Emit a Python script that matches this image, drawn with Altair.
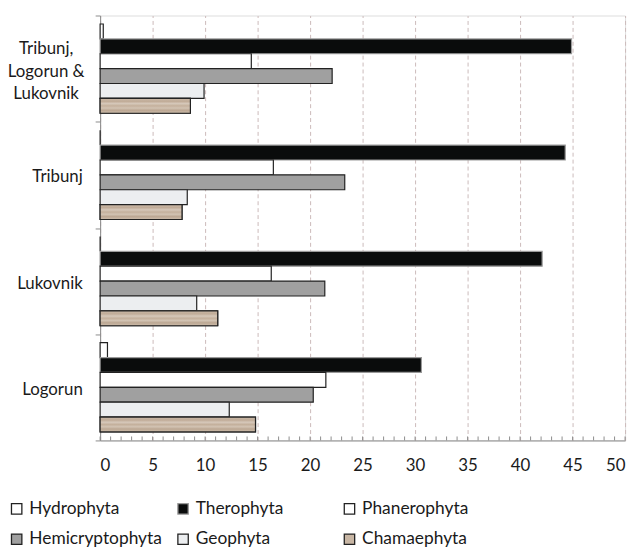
import altair as alt
import pandas as pd

groups = ["Tribunj, Logorun & Lukovnik", "Tribunj", "Lukovnik", "Logorun"]
series = ["Hydrophyta", "Therophyta", "Phanerophyta",
          "Hemicryptophyta", "Geophyta", "Chamaephyta"]

hydrophyta      = [0.3, 0.0, 0.0, 0.7]
therophyta      = [44.9, 44.3, 42.1, 30.6]
phanerophyta    = [14.4, 16.5, 16.3, 21.5]
hemicryptophyta = [22.1, 23.3, 21.4, 20.3]
geophyta        = [9.9, 8.3, 9.2, 12.3]
chamaephyta     = [8.6, 7.8, 11.2, 14.8]

x_ticks = [0, 5, 10, 15, 20, 25, 30, 35, 40, 45, 50]
minor_ticks = list(range(0, 51))

colors = ["#ffffff", "#0a0c0c", "#ffffff", "#a0a0a0", "#eceef0", "#c8b6a4"]
strokes = ["#222222", "#9a9a9a", "#222222", "#222222", "#222222", "#222222"]

vals = [hydrophyta, therophyta, phanerophyta, hemicryptophyta, geophyta, chamaephyta]
rows = []
for s, v in zip(series, vals):
    for g, x in zip(groups, v):
        rows.append({"group": g, "series": s, "value": x})
df = pd.DataFrame(rows)

FONT = "Lato"
TXT = "#1a1a1a"
W, H = 530, 429

multi = "Tribunj, Logorun & Lukovnik"
is_multi = "datum.value == '" + multi + "'"

y_enc = alt.Y("group:N", sort=groups, title=None,
              scale=alt.Scale(paddingInner=0, paddingOuter=0),
              axis=alt.Axis(
                  tickBand="extent", tickSize=5, tickColor="#8c8c8c",
                  domainColor="#8c8c8c", labelFont=FONT, labelFontSize=17,
                  labelColor=TXT, labelLineHeight=22.5,
                  labelExpr=is_multi + " ? ['Tribunj,', 'Logorun &', 'Lukovnik'] : datum.label",
                  labelAlign={"condition": {"test": is_multi, "value": "center"}, "value": "right"},
                  labelPadding={"condition": {"test": is_multi, "value": 50}, "value": 13},
                  labelOffset={"condition": {"test": is_multi, "value": -20}, "value": 2},
                  grid=False))

yoff = alt.YOffset("series:N", sort=series,
                   scale=alt.Scale(domain=series, paddingInner=0, paddingOuter=0.57))

x_enc = alt.X("value:Q", title=None,
              scale=alt.Scale(domain=[0, 50], nice=False),
              axis=alt.Axis(values=x_ticks, ticks=False, domainColor="#8c8c8c",
                            labelFont=FONT, labelFontSize=17, labelColor=TXT,
                            labelPadding=17, grid=True, gridColor="#cbbaba",
                            gridDash=[4, 3], gridWidth=1))

bars = alt.Chart(df).mark_bar(strokeWidth=1.2).encode(
    y=y_enc,
    yOffset=yoff,
    x=x_enc,
    fill=alt.Fill("series:N", sort=series,
                  scale=alt.Scale(domain=series, range=colors),
                  legend=alt.Legend(title=None, orient="none", legendX=-93, legendY=489,
                                    direction="horizontal", columns=3, gridAlign="all",
                                    columnPadding=12, rowPadding=12,
                                    symbolType="square", symbolSize=110,
                                    symbolStrokeColor="#111111", symbolStrokeWidth=1.3,
                                    labelFont=FONT, labelFontSize=17.5, labelColor=TXT,
                                    labelOffset=4)),
    stroke=alt.Stroke("series:N", sort=series,
                      scale=alt.Scale(domain=series, range=strokes), legend=None),
)

texture = alt.Chart(df).transform_filter(
    alt.datum.series == "Chamaephyta"
).mark_bar(
    stroke="#222222", strokeWidth=1.2,
    fill=alt.Gradient(gradient="linear", x1=0, y1=0, x2=0, y2=1, stops=[
        alt.GradientStop(offset=0.0, color="#cbbaa9"),
        alt.GradientStop(offset=0.2, color="#c0ab97"),
        alt.GradientStop(offset=0.35, color="#d6c8ba"),
        alt.GradientStop(offset=0.5, color="#c4b09c"),
        alt.GradientStop(offset=0.65, color="#d2c3b3"),
        alt.GradientStop(offset=0.8, color="#bca793"),
        alt.GradientStop(offset=1.0, color="#cdbdac"),
    ])
).encode(y=alt.Y("group:N", sort=groups), yOffset=yoff, x=alt.X("value:Q"))

tick_df = pd.DataFrame({"t": minor_ticks})
minor = alt.Chart(tick_df).mark_rule(color="#8c8c8c", strokeWidth=1).encode(
    x=alt.X("t:Q"),
    y=alt.value(H - 4),
    y2=alt.value(H),
)

chart = alt.layer(bars, texture, minor).properties(
    width=W, height=H,
    autosize=alt.AutoSizeParams(type="none"),
    padding={"left": 93, "top": 5, "right": 8, "bottom": 106},
).configure_view(stroke=None).configure(background="#ffffff")

chart.save("out.html", embed_options={"renderer": "svg", "actions": False})
